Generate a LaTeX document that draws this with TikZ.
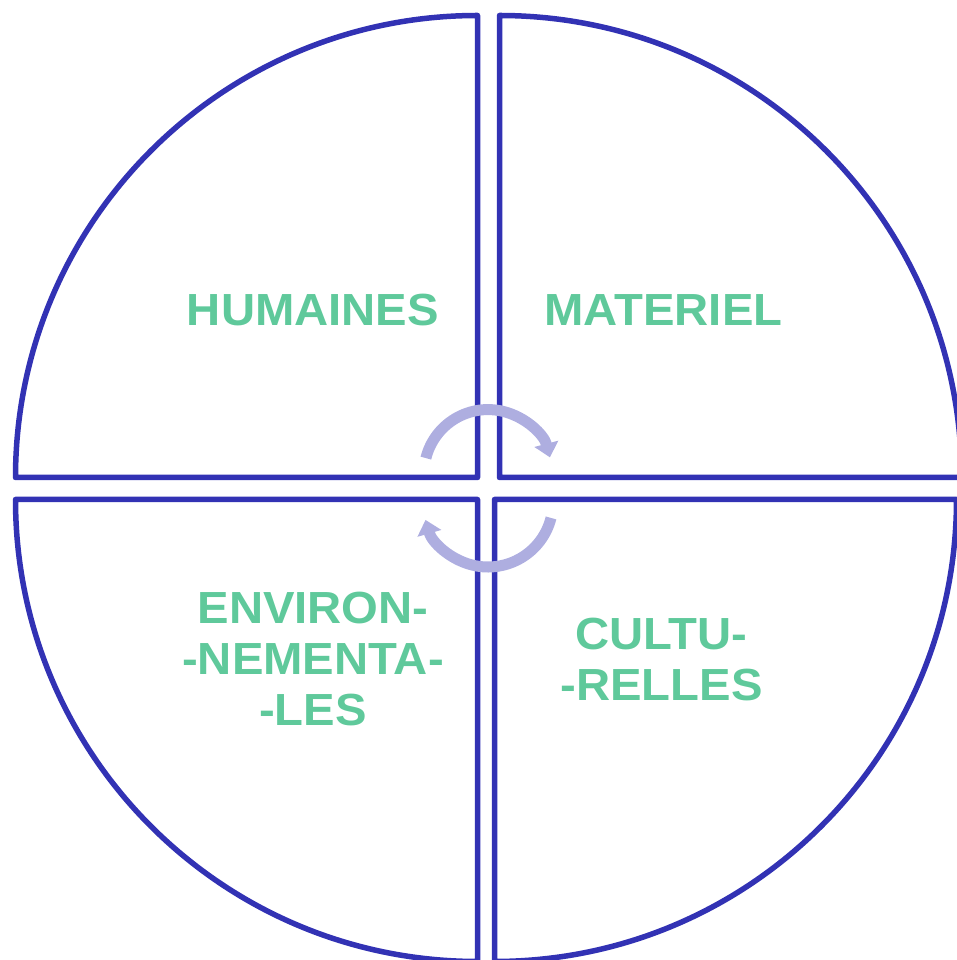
\documentclass[tikz,border=0pt]{standalone}
\usepackage{fontspec}
\setmainfont{Liberation Sans}
\newfontfamily\labelfont{Liberation Sans}[FakeStretch=1.05]
\usetikzlibrary{arrows.meta}
\definecolor{ringblue}{HTML}{3232B4}
\definecolor{labgreen}{HTML}{5FC99B}
\definecolor{cyclelav}{HTML}{AEAEE0}
\begin{document}
\begin{tikzpicture}[x=1pt,y=1pt,
  sector/.style={draw=ringblue, line width=5.5pt, line join=round},
  lbl/.style={text=labgreen, font=\labelfont\bfseries\fontsize{45}{51}\selectfont, align=center, inner sep=0pt},
  cyc/.style={draw=cyclelav, line width=11pt, -{Triangle[width=24pt,length=14pt]}}]
\useasboundingbox (0,0) rectangle (956,960);
% sectors
\coordinate (tl) at (477.5,482.5);
\coordinate (tr) at (499.5,482.5);
\coordinate (bl) at (477.5,460.5);
\coordinate (br) at (494.5,460.5);
\draw[sector] (tl) -- ++(-462,0) arc[start angle=180,end angle=90,radius=462] -- cycle;
\draw[sector] (tr) -- ++(0,462) arc[start angle=90,end angle=0,radius=462] -- cycle;
\draw[sector] (bl) -- ++(0,-462) arc[start angle=270,end angle=180,radius=462] -- cycle;
\draw[sector] (br) -- ++(462,0) arc[start angle=0,end angle=-90,radius=462] -- cycle;
% labels
\node[lbl] (hum) at (313,650) {HUMAINES};
\node[lbl] (mat) at (663.5,650) {MATERIEL};
\node[lbl] (env) at (313,301) {ENVIRON-\\-NEMENTA-\\-LES};
\node[lbl] (cul) at (661.5,300) {CULTU-\\-RELLES};
% cycle arrows
\coordinate (uc) at (488,486.4);
\coordinate (lc) at (488,458);
\draw[cyc] ([shift={(166:64)}]uc) arc[start angle=166,end angle=14.7,radius=64];
\draw[cyc] ([shift={(-14.2:65)}]lc) arc[start angle=-14.2,end angle=-164,radius=65];
\end{tikzpicture}
\end{document}
